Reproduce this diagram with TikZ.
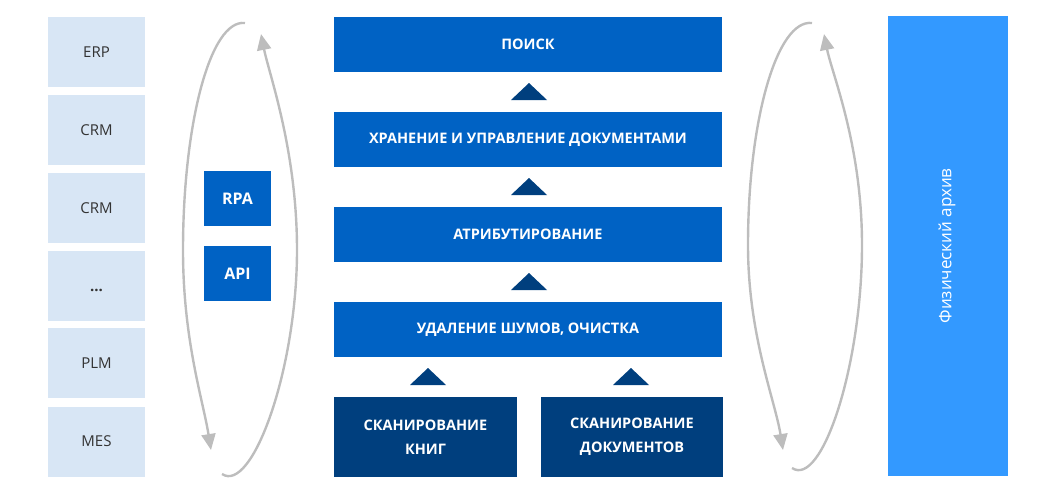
\documentclass[tikz,border=0pt]{standalone}
\usepackage{fontspec}
\setmainfont{Open Sans}
\usepackage{tikz}
\usetikzlibrary{arrows.meta, calc}

\definecolor{pale}{HTML}{D8E6F5}
\definecolor{midblue}{HTML}{0062C4}
\definecolor{darkblue}{HTML}{003F7E}
\definecolor{skyblue}{HTML}{3399FF}
\definecolor{arcgray}{HTML}{BDBDBD}
\definecolor{txtgray}{HTML}{333333}

\begin{document}
\begin{tikzpicture} [x=1pt, y=-1pt,
    >={Triangle[length=16pt, width=14pt]},
    box/.style = {inner sep=0, align=center, font=\fontsize{14.5}{24}\selectfont},
    ]
        \tikzset{SysStyle/.style = {box, fill = pale, text = txtgray, minimum width = 97, minimum height = 70, font=\fontsize{15}{18}\selectfont}}
        \tikzset{LinkStyle/.style = {box, fill = midblue, text = white, minimum width = 67, minimum height = 55, font=\fontsize{16}{18}\selectfont\bfseries}}
        \tikzset{StepStyle/.style = {box, fill = midblue, text = white, minimum width = 388, minimum height = 55}}
        \tikzset{ScanStyle/.style = {box, fill = darkblue, text = white, minimum height = 80}}
        \tikzset{TriStyle/.style = {fill = darkblue}}
        \tikzset{loop/.style = {draw = arcgray, line width = 2.4pt}}
    \useasboundingbox (0,0) rectangle (1058,493);
    % left column
    \node[SysStyle] at (96.5,52) (erp) {ERP};
    \node[SysStyle] at (96.5,130) (crm1) {CRM};
    \node[SysStyle] at (96.5,208) (crm2) {CRM};
    \node[SysStyle] at (96.5,286) (dots) {\textbf{...}\vphantom{M}};
    \node[SysStyle] at (96.5,363) (plm) {PLM};
    \node[SysStyle] at (96.5,441.5) (mes) {MES};
    \node[LinkStyle] at (237.5,198.5) (rpa) {RPA};
    \node[LinkStyle] at (237.5,273.5) (api) {API};
    % steps
    \node[StepStyle] at (528,44.5) (search) {\bfseries ПОИСК};
    \node[StepStyle] at (528,139.5) (store) {\bfseries ХРАНЕНИЕ И УПРАВЛЕНИЕ ДОКУМЕНТАМИ};
    \node[StepStyle] at (528,234.5) (attr) {\bfseries АТРИБУТИРОВАНИЕ};
    \node[StepStyle] at (528,329.5) (clean) {\bfseries УДАЛЕНИЕ ШУМОВ, ОЧИСТКА};
    \node[ScanStyle, minimum width=183] at (425.5,437) (books) {\bfseries СКАНИРОВАНИЕ\\\bfseries КНИГ};
    \node[ScanStyle, minimum width=182] at (632,437) (docs) {\bfseries СКАНИРОВАНИЕ\\\bfseries ДОКУМЕНТОВ};
    \node[box, fill=skyblue, minimum width=120, minimum height=460] at (948,246) (arch) {};
    \node[rotate=90, text=white, font=\fontsize{17}{20}\selectfont] at ([xshift=-1]arch.center) {Физический архив};

    \coordinate (t1) at (529,100);
    \coordinate (t2) at (529,195);
    \coordinate (t3) at (529,290);
    \coordinate (t4) at (428,385);
    \coordinate (t5) at (631,385);
    \fill[TriStyle] (t1) ++(-18,0) -- ++(36,0) -- ++(-18,-17) -- cycle;
    \fill[TriStyle] (t2) ++(-18,0) -- ++(36,0) -- ++(-18,-17) -- cycle;
    \fill[TriStyle] (t3) ++(-18,0) -- ++(36,0) -- ++(-18,-17) -- cycle;
    \fill[TriStyle] (t4) ++(-18,0) -- ++(36,0) -- ++(-18,-17) -- cycle;
    \fill[TriStyle] (t5) ++(-18,0) -- ++(36,0) -- ++(-18,-17) -- cycle;

    % loops
    \coordinate (la) at (245,23);
    \coordinate (lw) at (183,250);
    \coordinate (lb) at (211,450);
    \coordinate (lc) at (222,474);
    \coordinate (le) at (297,250);
    \coordinate (ld) at (261,34);
    \draw[loop, ->] (la) .. controls +(-35,-4) and +(0,-125) .. (lw) .. controls +(0,90) and +(-8,-50) .. (lb);
    \draw[loop, ->] (lc) .. controls +(30,20) and +(0,120) .. (le) .. controls +(0,-100) and +(8,40) .. (ld);
    \coordinate (ra) at (812,23);
    \coordinate (rw) at (748,245);
    \coordinate (rb) at (783,450);
    \coordinate (rc) at (792,468);
    \coordinate (re) at (862,245);
    \coordinate (rd) at (824,34);
    \draw[loop, ->] (ra) .. controls +(-35,-4) and +(0,-125) .. (rw) .. controls +(0,90) and +(-8,-50) .. (rb);
    \draw[loop, ->] (rc) .. controls +(30,20) and +(0,120) .. (re) .. controls +(0,-100) and +(8,40) .. (rd);
\end{tikzpicture}
\end{document}
